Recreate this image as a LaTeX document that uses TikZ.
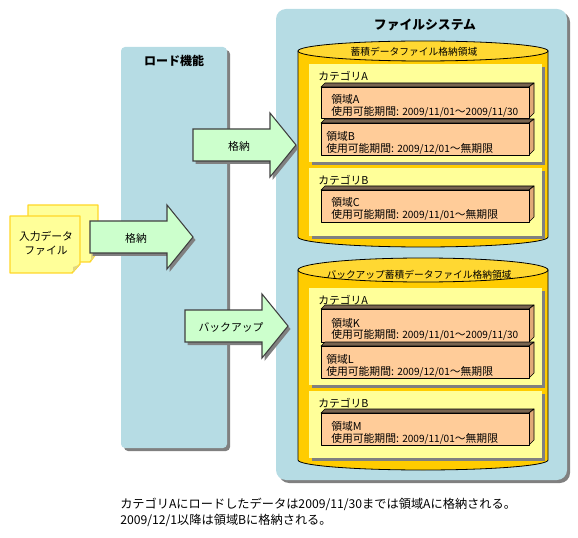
\documentclass[tikz,border=0pt]{standalone}
\usepackage{fontspec}
\setmainfont{Noto Sans CJK JP}
\definecolor{panelblue}{RGB}{182,220,228}
\definecolor{panelshadow}{RGB}{128,128,128}
\definecolor{cylgold}{RGB}{255,204,0}
\definecolor{cyltop}{RGB}{255,216,50}
\definecolor{catyellow}{RGB}{255,255,153}
\definecolor{regionorange}{RGB}{255,204,153}
\definecolor{regiontop}{RGB}{120,100,80}
\definecolor{regionsidecol}{RGB}{225,170,120}
\definecolor{arrowgreen}{RGB}{204,255,204}
\definecolor{notegold}{RGB}{255,215,40}
\definecolor{notefold}{RGB}{225,215,130}
\newcommand{\dt}[1]{{\fontsize{7.55pt}{10pt}\selectfont #1}}
\tikzset{
  txt/.style={inner sep=0pt,font=\fontsize{8.1pt}{10pt}\selectfont,text=black},
  ltxt/.style={txt,anchor=west},
  foot/.style={inner sep=0pt,anchor=west,font=\fontsize{9.15pt}{11pt}\selectfont,text=black},
  cyltxt/.style={inner sep=0pt,font=\fontsize{7.3pt}{10pt}\selectfont,text=black},
  ctitle/.style={inner sep=0pt,font=\fontsize{9pt}{11pt}\selectfont\bfseries,text=black},
  panelbox/.style={fill=panelblue,rounded corners=7.5pt},
  shadowbox/.style={fill=panelshadow,rounded corners=7.5pt},
  catbox/.style={fill=catyellow},
  catshadow/.style={fill=panelshadow},
  regionface/.style={fill=regionorange,draw=black,line width=0.7pt,line join=round},
  regiontopface/.style={fill=regiontop,draw=black,line width=0.5pt,line join=round},
  regionside/.style={fill=regionsidecol,draw=black,line width=0.5pt,line join=round},
  bigarrow/.style={fill=arrowgreen,draw=black!75,line width=0.8pt,line join=miter},
  arrowshadow/.style={fill=panelshadow},
  notebox/.style={fill=catyellow,draw=notegold,line width=1.1pt,line join=round},
  notefoldtri/.style={fill=notefold},
  cylbody/.style={fill=cylgold,draw=black,line width=0.6pt},
  cylcap/.style={fill=cyltop,draw=black,line width=0.6pt}
}
\newcommand{\regionblock}[9]{%
  \draw[regiontopface] (#2,#3) -- (#2+4,#3-4) -- (534,#3-4) -- (529,#3) -- cycle;
  \draw[regionside] (529,#3) -- (534,#3-4) -- (534,#4-5) -- (529,#4) -- cycle;
  \draw[regionface] (#2,#3) rectangle (529,#4);
  \node[ltxt] (#1a) at (#5,#6) {#8};
  \node[ltxt] (#1b) at (#5,#7) {#9};
}
\newcommand{\catblock}[5]{%
  \fill[catshadow] (312,#2+3) rectangle (545,#3+3);
  \fill[catbox] (309,#2) rectangle (542,#3);
  \node[ltxt] (#1) at (318,#4) {#5};
}
\newcommand{\bigarrowblock}[7]{%
  \fill[arrowshadow,shift={(2.5,3)}] (#1,#4-16) -- (#2,#4-16) -- (#2,#4-32) -- (#3,#4) -- (#2,#4+32) -- (#2,#4+16) -- (#1,#4+16) -- cycle;
  \draw[bigarrow] (#1,#4-16) -- (#2,#4-16) -- (#2,#4-32) -- (#3,#4) -- (#2,#4+32) -- (#2,#4+16) -- (#1,#4+16) -- cycle;
  \node[txt] (#7) at (#5,#4+1) {#6};
}
\newcommand{\cylblock}[3]{%
  \draw[cylbody] (298,#1) -- (298,#3) arc[start angle=180,end angle=0,x radius=125,y radius=10] -- (548,#1) -- cycle;
  \draw[cylcap] (423,#1) ellipse[x radius=125,y radius=#2];
}
\begin{document}
\begin{tikzpicture}[x=0.75pt,y=-0.75pt]
\useasboundingbox (0,0) rectangle (578,538);
\fill[shadowbox,rounded corners=3pt] (124,50) rectangle (230,451);
\fill[panelbox,rounded corners=3pt] (121,47) rectangle (227,448);
\node[ctitle] (loadtitle) at (174,61) {ロード機能};
\fill[shadowbox] (279,12) rectangle (570,483);
\fill[panelbox] (276,9) rectangle (567,480);
\node[ctitle,font=\fontsize{9.6pt}{11pt}\selectfont\bfseries] (fstitle) at (425,25) {ファイルシステム};
\cylblock{51}{10}{237}
\node[cyltxt] (cyl1) at (414,52) {蓄積データファイル格納領域};
\catblock{cat1a}{64}{162}{76}{カテゴリA}
\regionblock{r1}{321}{87}{118}{331}{99}{112}{領域A}{使用可能期間: \dt{2009/11/01}～\dt{2009/11/30}}
\regionblock{r2}{321}{123}{155}{326}{136}{149}{領域B}{使用可能期間:  \dt{2009/12/01}～無期限}
\catblock{cat1b}{168}{236}{180}{カテゴリB}
\regionblock{r3}{321}{190}{222}{331}{202}{215}{領域C}{使用可能期間: \dt{2009/11/01}～無期限}
\cylblock{270}{12}{460}
\node[cyltxt] (cyl2) at (419,275) {バックアップ蓄積データファイル格納領域};
\catblock{cat2a}{288}{385}{300}{カテゴリA}
\regionblock{r4}{321}{309}{342}{331}{323}{335}{領域K}{使用可能期間: \dt{2009/11/01}～\dt{2009/11/30}}
\regionblock{r5}{321}{346}{378}{326}{359}{372}{領域L}{使用可能期間:  \dt{2009/12/01}～無期限}
\catblock{cat2b}{391}{458}{403}{カテゴリB}
\regionblock{r6}{321}{413}{445}{331}{426}{439}{領域M}{使用可能期間: \dt{2009/11/01}～無期限}
\draw[notebox] (28,205) -- (98,205) -- (98,251) -- (90,262) -- (28,262) -- cycle;
\fill[notefoldtri] (91,261) -- (97,252) -- (91,254) -- cycle;
\draw[notebox] (10,216) -- (80,216) -- (80,264) -- (72,273) -- (10,273) -- cycle;
\fill[notefoldtri] (73,272) -- (79,265) -- (73,267) -- cycle;
\node[txt] (inputa) at (46,236) {入力データ};
\node[txt] (inputb) at (46,251) {ファイル};
\bigarrowblock{193}{270}{296}{145}{239}{格納}{arrowa}
\bigarrowblock{90}{167}{193}{237}{136}{格納}{arrowb}
\bigarrowblock{185}{262}{288}{326}{231}{バックアップ}{arrowc}
\node[foot] (foota) at (120,504) {カテゴリAにロードしたデータは2009/11/30までは領域Aに格納される。};
\node[foot] (footb) at (120,520) {2009/12/1以降は領域Bに格納される。};
\end{tikzpicture}
\end{document}
